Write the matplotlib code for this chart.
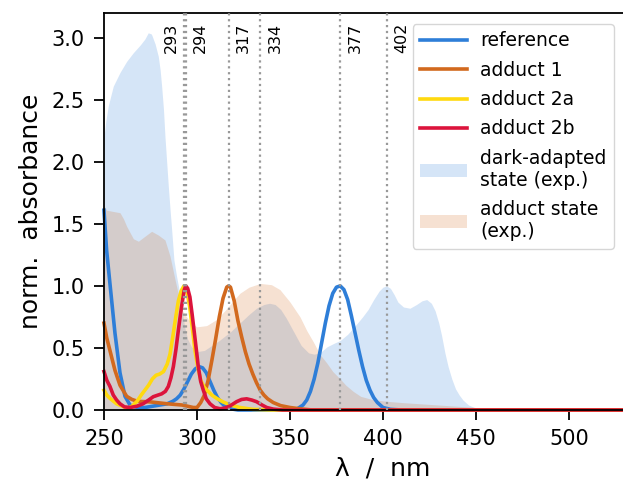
import matplotlib
matplotlib.use("Agg")
import matplotlib.pyplot as plt
from matplotlib.patches import Patch
from matplotlib.lines import Line2D

plt.rcParams["font.family"] = ["DejaVu Sans"]

# computed spectra (normalised)
ref_x = [250, 251.4, 253.2, 255.9, 258.6, 261.3, 264, 268, 272, 276, 280, 284, 287, 289, 291, 293, 295, 297,
         299, 301, 303, 305, 307, 309, 311, 313, 315, 318, 322, 350, 354, 357, 359, 361, 363, 365, 367, 369,
         371, 373, 375, 377, 379, 381, 383, 385, 387, 389, 391, 393, 395, 397, 400, 404, 410, 550]
ref_y = [1.61, 1.29, 1.02, 0.62, 0.30, 0.11, 0.04, 0.02, 0.02, 0.03, 0.04, 0.05, 0.07, 0.09, 0.12, 0.17,
         0.23, 0.29, 0.33, 0.35, 0.34, 0.30, 0.23, 0.16, 0.10, 0.06, 0.03, 0.01, 0.0, 0.0, 0.01, 0.04, 0.08,
         0.15, 0.25, 0.38, 0.54, 0.70, 0.84, 0.94, 0.99, 1.00, 0.97, 0.89, 0.76, 0.62, 0.48, 0.35, 0.24, 0.16,
         0.10, 0.06, 0.02, 0.005, 0.0, 0.0]

add1_x = [250, 251.5, 253.2, 255.9, 258.6, 262.2, 265, 268, 275, 284, 292, 298, 300, 302, 304, 306, 308, 310,
          312, 314, 316, 317, 318, 320, 322, 324, 326, 328, 330, 332, 334, 336, 338, 341, 345, 350, 355, 362, 550]
add1_y = [0.70, 0.58, 0.48, 0.32, 0.20, 0.11, 0.085, 0.07, 0.065, 0.05, 0.04, 0.02, 0.02, 0.06, 0.12, 0.24,
          0.40, 0.57, 0.75, 0.90, 0.99, 1.00, 0.99, 0.88, 0.72, 0.59, 0.47, 0.37, 0.29, 0.22, 0.16, 0.12, 0.09,
          0.06, 0.035, 0.02, 0.01, 0.0, 0.0]

add2a_x = [250, 251.5, 253.2, 256.8, 260.4, 263, 265, 267.6, 270, 272, 274, 276, 278, 280, 282, 284, 285.5,
           287, 288.5, 290, 291.5, 293, 294.5, 296, 297.5, 299, 300.5, 302, 304, 306, 308, 311, 314, 318, 323,
           330, 340, 550]
add2a_y = [0.16, 0.12, 0.094, 0.05, 0.027, 0.015, 0.03, 0.067, 0.12, 0.16, 0.20, 0.25, 0.28, 0.29, 0.31,
           0.37, 0.45, 0.59, 0.74, 0.88, 0.96, 1.00, 0.96, 0.84, 0.66, 0.47, 0.34, 0.24, 0.18, 0.15, 0.12,
           0.09, 0.065, 0.04, 0.02, 0.005, 0.0, 0.0]

add2b_x = [250, 251.5, 253.2, 255, 256.8, 258.6, 261, 264, 267.6, 271, 274, 276.5, 279, 281, 283, 284.6, 286,
           287.3, 288.7, 290, 291.2, 292.3, 293.2, 294, 295, 296.2, 297.4, 298.6, 299.7, 300.7, 302, 303.4,
           305, 307, 309.5, 312.4, 315, 318, 321.3, 324, 326.7, 329.5, 332, 335, 337.5, 341, 346, 550]
add2b_y = [0.31, 0.24, 0.19, 0.12, 0.08, 0.05, 0.025, 0.02, 0.03, 0.05, 0.08, 0.107, 0.12, 0.13, 0.15, 0.19,
           0.26, 0.35, 0.49, 0.645, 0.78, 0.89, 0.97, 1.00, 0.98, 0.91, 0.77, 0.62, 0.48, 0.35, 0.23, 0.16,
           0.09, 0.05, 0.02, 0.01, 0.015, 0.035, 0.067, 0.085, 0.09, 0.08, 0.067, 0.04, 0.02, 0.007, 0.0, 0.0]

# measured spectra
dark_x = [250, 251, 252.3, 255, 258.6, 262.2, 265.8, 269.4, 272, 273.8, 275.5, 277.5, 279.2, 280.2, 281, 282,
          282.8, 283.7, 284.6, 285.5, 286.4, 287.6, 289, 290, 291, 292, 293.5, 295, 297, 300, 304, 308, 312,
          318, 323, 328, 332, 336, 339, 342, 345, 348, 352, 356, 360, 363, 366, 370, 374, 377, 381, 384, 389,
          392, 395, 398, 400, 402, 404, 406, 408, 411, 414.5, 418, 421, 423.5, 426, 428, 430, 431.5, 433.3,
          435, 437, 439, 441, 443, 446, 450, 455, 550]
dark_y = [2.2, 2.33, 2.45, 2.61, 2.72, 2.81, 2.88, 2.94, 2.99, 3.04, 3.03, 2.95, 2.85, 2.74, 2.61, 2.42, 2.2,
          2.0, 1.8, 1.62, 1.45, 1.21, 1.08, 1.0, 0.9, 0.8, 0.66, 0.57, 0.51, 0.47, 0.48, 0.52, 0.56, 0.63, 0.70,
          0.77, 0.82, 0.85, 0.86, 0.85, 0.81, 0.74, 0.63, 0.52, 0.46, 0.45, 0.46, 0.51, 0.54, 0.56, 0.61, 0.66,
          0.75, 0.81, 0.89, 0.96, 0.99, 1.0, 0.98, 0.93, 0.87, 0.83, 0.82, 0.85, 0.88, 0.89, 0.86, 0.80, 0.70,
          0.60, 0.46, 0.35, 0.25, 0.17, 0.12, 0.08, 0.04, 0.015, 0.0, 0.0]

adst_x = [250, 251.4, 255, 258.6, 260.5, 262.2, 265.8, 268.5, 272, 275.6, 279.2, 282.8, 285.5, 288.2, 291.8,
          295.3, 299.8, 305.2, 310.6, 315, 319, 323, 328, 334, 340, 344.6, 350, 355.4, 359, 362.5, 366, 369.7,
          373, 377, 380, 384, 388, 394, 402, 410, 420, 430, 440, 450, 460, 470, 480, 550]
adst_y = [1.65, 1.61, 1.60, 1.59, 1.54, 1.48, 1.38, 1.36, 1.40, 1.44, 1.41, 1.37, 1.24, 1.05, 0.81, 0.73,
          0.67, 0.68, 0.73, 0.80, 0.87, 0.94, 0.99, 1.02, 1.01, 0.97, 0.87, 0.75, 0.64, 0.55, 0.45, 0.38,
          0.31, 0.25, 0.20, 0.15, 0.11, 0.085, 0.07, 0.06, 0.05, 0.04, 0.03, 0.02, 0.01, 0.005, 0.0, 0.0]

# excitation wavelengths marked in the plot
marks = [293, 294, 317, 334, 377, 402]

c_ref = "#2e7ed8"
c_add1 = "#d2691e"
c_add2a = "#ffd90f"
c_add2b = "#dc143c"

fig = plt.figure(figsize=(6.23, 4.91), dpi=100)
ax = fig.add_axes([0.1669, 0.165, 0.8957, 0.8086])

ax.fill_between(dark_x, dark_y, color=c_ref, alpha=0.2, lw=0)
ax.fill_between(adst_x, adst_y, color=c_add1, alpha=0.2, lw=0)

lw = 2.6
ax.plot(ref_x, ref_y, color=c_ref, lw=lw, clip_on=False)
ax.plot(add1_x, add1_y, color=c_add1, lw=lw, clip_on=False)
ax.plot(add2a_x, add2a_y, color=c_add2a, lw=lw, clip_on=False)
ax.plot(add2b_x, add2b_y, color=c_add2b, lw=lw, clip_on=False)

for m in marks:
    ax.axvline(m, color="0.6", ls=":", lw=1.6, zorder=5)
    if m == 293:
        ax.text(m - 3.0, 3.12, str(m), rotation=90, ha="right", va="top", fontsize=11.5)
    else:
        ax.text(m + 4.0, 3.12, str(m), rotation=90, ha="left", va="top", fontsize=11.5)

ax.set_xlim(250, 550)
ax.set_ylim(0, 3.2)
ax.set_xticks([250, 300, 350, 400, 450, 500])
ax.set_yticks([0.0, 0.5, 1.0, 1.5, 2.0, 2.5, 3.0])
ax.set_yticklabels(["0.0", "0.5", "1.0", "1.5", "2.0", "2.5", "3.0"])
ax.tick_params(labelsize=15, length=7, width=1.3, pad=7)
for s in ax.spines.values():
    s.set_linewidth(1.3)

ax.set_xlabel("λ  /  nm", fontsize=18, labelpad=5)
ax.set_ylabel("norm.  absorbance", fontsize=18, labelpad=6)

handles = [
    Line2D([], [], color=c_ref, lw=lw),
    Line2D([], [], color=c_add1, lw=lw),
    Line2D([], [], color=c_add2a, lw=lw),
    Line2D([], [], color=c_add2b, lw=lw),
    Patch(facecolor=c_ref, alpha=0.2, lw=0),
    Patch(facecolor=c_add1, alpha=0.2, lw=0),
]
labels = ["reference", "adduct 1", "adduct 2a", "adduct 2b",
          "dark-adapted\nstate (exp.)", "adduct state\n(exp.)"]
ax.legend(handles, labels, loc="upper right", bbox_to_anchor=(614 / 623, 467 / 491),
          bbox_transform=fig.transFigure, borderaxespad=0, fontsize=13.5, handlelength=2.5,
          handletextpad=0.7, labelspacing=0.55, borderpad=0.4)

fig.savefig("out.png", dpi=100)
